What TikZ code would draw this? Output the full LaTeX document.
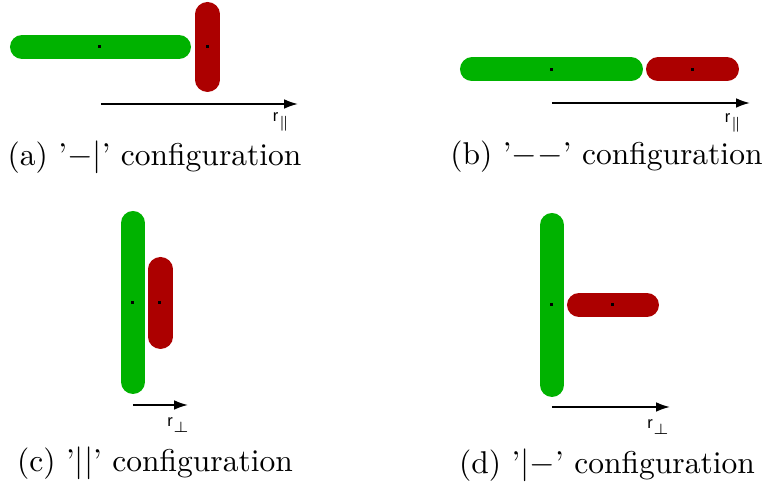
\documentclass[tikz,border=0pt]{standalone}
\usepackage{fontspec}
\newfontfamily\lblfont{Liberation Sans}
\usetikzlibrary{arrows.meta}
\definecolor{rodgreen}{RGB}{0,178,0}
\definecolor{rodred}{RGB}{172,0,0}
\tikzset{
  gbar/.style={line width=8pt, line cap=round, rodgreen},
  rbar/.style={line width=8pt, line cap=round, rodred},
  cdot/.style={fill=black, inner sep=0pt, minimum size=1pt, rectangle},
  axis/.style={line width=0.6pt, -{Latex[length=4.6pt,width=3.2pt]}},
  axlbl/.style={font=\lblfont\fontsize{5.5}{6}\selectfont, inner sep=0pt},
  capt/.style={font=\fontsize{10.5}{12}\selectfont, inner sep=0pt}
}
\begin{document}
\begin{tikzpicture}[x=0.3333pt, y=-0.3333pt]
\useasboundingbox (0,0) rectangle (763,484);
% (a)
\draw[gbar] (22,47) -- (179,47);
\draw[rbar] (207.5,14) -- (207.5,80);
\node[cdot] (a1) at (100,47) {};
\node[cdot] (a2) at (207.5,47) {};
\coordinate (as) at (101,104);
\coordinate (ae) at (298,104);
\draw[axis] (as) -- (ae);
\node[axlbl] (al) at (282,122) {r$_{\scriptscriptstyle\parallel}$};
\node[capt] (ac) at (154.5,157) {(a) '$-|$' configuration};
% (b)
\draw[gbar] (472,69.5) -- (631,69.5);
\draw[rbar] (658,69.5) -- (727,69.5);
\node[cdot] (b1) at (552,70) {};
\node[cdot] (b2) at (693,70) {};
\coordinate (bs) at (552,103);
\coordinate (be) at (750,103);
\draw[axis] (bs) -- (be);
\node[axlbl] (bl) at (734,123) {r$_{\scriptscriptstyle\parallel}$};
\node[capt] (bc) at (606.5,157) {(b) '$--$' configuration};
% (c)
\draw[gbar] (133,223) -- (133,382);
\draw[rbar] (160.5,269) -- (160.5,337);
\node[cdot] (c1) at (133,302.7) {};
\node[cdot] (c2) at (160,302.7) {};
\coordinate (cs) at (133,405);
\coordinate (ce) at (188,405);
\draw[axis] (cs) -- (ce);
\node[axlbl] (cl) at (179,425) {r$_{\perp}$};
\node[capt] (cc) at (155,463) {(c) '$||$' configuration};
% (d)
\draw[gbar] (552,225) -- (552,385);
\draw[rbar] (579,305) -- (647,305);
\node[cdot] (d1) at (552,305) {};
\node[cdot] (d2) at (613,305) {};
\coordinate (ds) at (552,407);
\coordinate (de) at (670,407);
\draw[axis] (ds) -- (de);
\node[axlbl] (dl) at (659,427) {r$_{\perp}$};
\node[capt] (dc) at (607,465) {(d) '$|-$' configuration};
\end{tikzpicture}
\end{document}
